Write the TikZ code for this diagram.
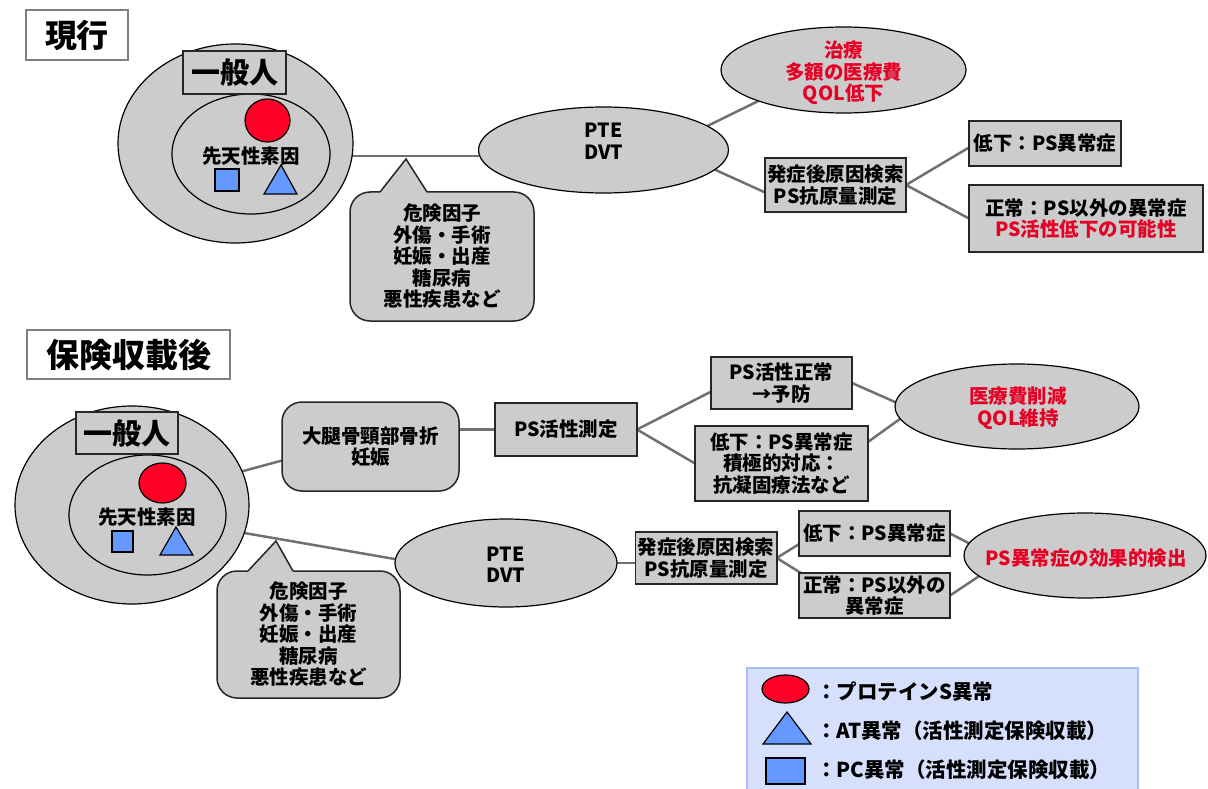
\documentclass[tikz,border=0pt]{standalone}
\usepackage{fontspec}
\setmainfont{Noto Sans CJK JP}
\usetikzlibrary{shapes.geometric,calc,backgrounds}
\definecolor{gfill}{RGB}{204,204,204}
\definecolor{connc}{RGB}{112,112,112}
\definecolor{redtxt}{RGB}{230,0,38}
\definecolor{redfill}{RGB}{255,0,40}
\definecolor{bluefill}{RGB}{102,153,255}
\definecolor{legfill}{RGB}{214,224,252}
\definecolor{legdraw}{RGB}{166,192,245}
\definecolor{titledraw}{RGB}{128,128,128}
\begin{document}
\begin{tikzpicture}[x=1pt,y=-1pt,
  every node/.style={inner sep=0pt, outer sep=0pt},
  txt/.style={font=\fontsize{19.5}{21.5}\selectfont\bfseries, align=center},
  redt/.style={txt, text=redtxt},
  ell/.style={ellipse, draw=black, line width=1.2pt, fill=gfill},
  gbox/.style={rectangle, draw=black!85, line width=1.5pt, fill=gfill, txt},
  rbox/.style={gbox, rounded corners=20pt},
  titlebox/.style={rectangle, draw=titledraw, line width=2.5pt, fill=white, font=\fontsize{32}{36}\selectfont\bfseries},
  genbox/.style={rectangle, draw=black!85, line width=1.5pt, fill=gfill, font=\fontsize{29}{32}\selectfont\bfseries},
  conn/.style={draw=connc, line width=2.5pt},
  shapeline/.style={draw=black, line width=1.2pt},
  redmark/.style={ellipse, shapeline, fill=redfill},
  bluesq/.style={rectangle, shapeline, fill=bluefill},
  legtxt/.style={font=\fontsize{20.5}{24}\selectfont\bfseries, anchor=west},
  pointer/.style={draw=black!85, line width=1.5pt, line join=miter}
]
\useasboundingbox (0,0) rectangle (1208,789);

% ---------------- top: 現行 ----------------
\node[titlebox, minimum width=102pt, minimum height=50pt] (title1) at (77,35) {現行};
\node[ell, minimum width=235pt, minimum height=199pt] (outer1) at (235.5,143.5) {};
\node[ell, minimum width=158pt, minimum height=120pt] (inner1) at (251,154) {};
\node[genbox, minimum width=103pt, minimum height=43pt] (gen1) at (234.5,72.5) {一般人};
\node[redmark, minimum width=45pt, minimum height=43pt] (red1) at (267.5,120.5) {};
\node[txt] (cong1) at (251,156) {先天性素因};
\node[bluesq, minimum width=24pt, minimum height=22pt] (sq1) at (227,180) {};
\draw[shapeline, fill=bluefill] (281,165) -- (297,194) -- (264,194) -- cycle;

\node[rbox, minimum width=184pt, minimum height=129pt] (call1) at (442,256.5)
  {危険因子\\外傷・手術\\妊娠・出産\\糖尿病\\悪性疾患など};
\fill[gfill] ($(call1.north west)+(30.8,2)$) -- ($(call1.north west)+(30,0)$) -- ($(call1.north west)+(56,-33)$) -- ($(call1.north west)+(77,0)$) -- ($(call1.north west)+(76.2,2)$) -- cycle;
\draw[pointer] ($(call1.north west)+(30,0)$) -- ($(call1.north west)+(56,-33)$) -- ($(call1.north west)+(77,0)$);

\node[ell, minimum width=250pt, minimum height=86pt] (pte1) at (603.5,150) {};
\node[txt] (pte1t) at (603.5,141) {PTE\\DVT};
\node[ell, minimum width=245pt, minimum height=86pt] (cure) at (843.5,70) {};
\node[redt] (curet) at (843.5,73) {治療\\多額の医療費\\QOL低下};
\node[gbox, minimum width=141pt, minimum height=54pt] (cause1) at (835.5,185) {発症後原因検索\\PS抗原量測定};
\node[gbox, minimum width=152pt, minimum height=45pt] (low1) at (1045,143.5) {低下：PS異常症};
\node[gbox, minimum width=234pt, minimum height=67pt] (norm1) at (1086,218.5) {正常：PS以外の異常症\\\textcolor{redtxt}{PS活性低下の可能性}};

% ---------------- bottom: 保険収載後 ----------------
\node[titlebox, minimum width=203pt, minimum height=49pt, font=\fontsize{33}{36}\selectfont\bfseries] (title2) at (128.5,354.5) {保険収載後};
\node[ell, minimum width=234pt, minimum height=198pt] (outer2) at (132,505) {};
\node[ell, minimum width=157pt, minimum height=120pt] (inner2) at (147.5,515) {};
\node[genbox, minimum width=102pt, minimum height=42pt] (gen2) at (127,433) {一般人};
\node[redmark, minimum width=47pt, minimum height=40pt] (red2) at (162.5,483) {};
\node[txt] (cong2) at (147,517) {先天性素因};
\node[bluesq, minimum width=21pt, minimum height=21pt] (sq2) at (122.5,541.5) {};
\draw[shapeline, fill=bluefill] (176,527) -- (193,555) -- (160,555) -- cycle;

\node[rbox, minimum width=177pt, minimum height=89pt] (femur) at (370.5,446.5) {大腿骨頸部骨折\\妊娠};
\node[rbox, minimum width=183pt, minimum height=127pt] (call2) at (308.5,634.5)
  {危険因子\\外傷・手術\\妊娠・出産\\糖尿病\\悪性疾患など};
\fill[gfill] ($(call2.north west)+(31.8,2)$) -- ($(call2.north west)+(31,0)$) -- ($(call2.north west)+(59,-30)$) -- ($(call2.north west)+(76,0)$) -- ($(call2.north west)+(75.2,2)$) -- cycle;
\draw[pointer] ($(call2.north west)+(31,0)$) -- ($(call2.north west)+(59,-30)$) -- ($(call2.north west)+(76,0)$);

\node[gbox, minimum width=142pt, minimum height=53pt] (psact) at (566,429.5) {PS活性測定};
\node[gbox, minimum width=141pt, minimum height=52pt] (psnorm) at (781.5,383) {PS活性正常\\→予防};
\node[gbox, minimum width=173pt, minimum height=75pt] (pslow) at (781.5,463.5) {低下：PS異常症\\積極的対応：\\抗凝固療法など};
\node[ell, minimum width=244pt, minimum height=85pt] (qol) at (1017,406.5) {};
\node[redt] (qolt) at (1018,408) {医療費削減\\QOL維持};

\node[ell, minimum width=222pt, minimum height=88pt] (pte2) at (506,563) {};
\node[txt] (pte2t) at (505.5,564.5) {PTE\\DVT};
\node[gbox, minimum width=141.5pt, minimum height=52pt] (cause2) at (706,558) {発症後原因検索\\PS抗原量測定};
\node[gbox, minimum width=151pt, minimum height=45pt] (low2) at (874.5,533.5) {低下：PS異常症};
\node[gbox, minimum width=151pt, minimum height=45pt] (norm2) at (874.5,595.5) {正常：PS以外の\\異常症};
\node[ell, minimum width=242pt, minimum height=85pt] (detect) at (1085,555.5) {};
\node[redt] (detectt) at (1086,558) {PS異常症の効果的検出};

% ---------------- legend ----------------
\node[rectangle, draw=legdraw, line width=2pt, fill=legfill, minimum width=391pt, minimum height=124pt] (legend) at (942.5,730) {};
\node[redmark, minimum width=47pt, minimum height=28pt] (lred) at (785.5,689) {};
\draw[shapeline, fill=bluefill] (787,712) -- (811,744) -- (763,744) -- cycle;
\node[bluesq, minimum width=39pt, minimum height=26pt] (lsq) at (785.5,771) {};
\node[legtxt] (l1) at (816,692) {：プロテインS異常};
\node[legtxt] (l2) at (816,731) {：AT異常（活性測定保険収載）};
\node[legtxt] (l3) at (816,770) {：PC異常（活性測定保険収載）};

% ---------------- connectors ----------------
\begin{pgfonlayer}{background}
\draw[conn] (outer1.-6) -- (outer1.-6 -| pte1.west);
\draw[conn] (pte1.13) -- (cure.200);
\draw[conn] (pte1.-10) -- (cause1.186.5);
\draw[conn] (cause1.east) -- (low1.183);
\draw[conn] (cause1.east) -- (norm1.west);

\draw[conn] (outer2.17) -- (femur.189);
\draw[conn] (femur.east |- psact.west) -- (psact.west);
\draw[conn] (psact.east) -- (psnorm.187);
\draw[conn] (psact.east) -- (pslow.west);
\draw[conn] (psnorm.east) -- (qol.178);
\draw[conn] (pslow.14) -- (qol.186.5);
\draw[conn] (outer2.-14) -- (pte2.178);
\draw[conn] (pte2.east) -- (pte2.east -| cause2.west);
\draw[conn] (cause2.east) -- (low2.188.7);
\draw[conn] (cause2.east) -- (norm2.163.4);
\draw[conn] (low2.east) -- (detect.174);
\draw[conn] (norm2.east) -- (detect.191);
\end{pgfonlayer}
\end{tikzpicture}
\end{document}
